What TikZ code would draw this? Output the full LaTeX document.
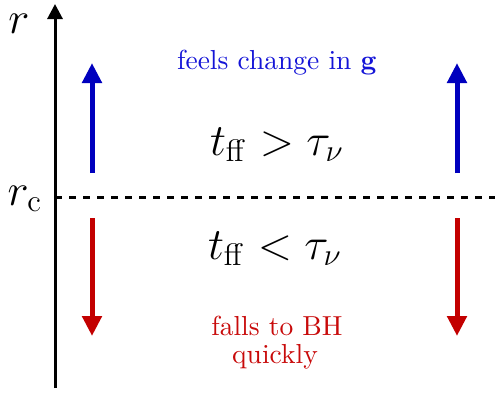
\documentclass[tikz,border=0pt]{standalone}
\usepackage{graphicx}
\usetikzlibrary{arrows.meta}
\definecolor{myblue}{RGB}{0,0,190}
\definecolor{myred}{RGB}{195,0,0}
\definecolor{txtblue}{RGB}{20,20,215}
\definecolor{txtred}{RGB}{200,10,10}
\newcommand{\myBigMath}[1]{\scalebox{2.6}{\LARGE #1}}
\newcommand{\mySmallTxt}[1]{\scalebox{2.75}{\normalsize #1}}
\tikzset{
  txtnode/.style={anchor=base, inner sep=0pt},
  upflow/.style={myblue, line width=5pt, -{Triangle[width=19pt,length=20pt]}},
  downflow/.style={myred, line width=5pt, -{Triangle[width=19pt,length=20pt]}},
  axisline/.style={black, line width=3pt, -{Triangle[width=15pt,length=15pt]}},
}
\begin{document}
\begin{tikzpicture}[x=1pt,y=-1pt]
\useasboundingbox (0,0) rectangle (495,392);
% axis
\coordinate (axb) at (55,388);
\coordinate (axt) at (55,4);
\draw[axisline] (axb) -- (axt);
% dashed critical radius
\coordinate (dl) at (55,197);
\coordinate (dr) at (495,197);
\draw[black, line width=3pt, dash pattern=on 7pt off 7pt] (dl) -- (dr);
% labels
\node[txtnode] (r) at (19,33) {\myBigMath{$r$}};
\node[txtnode] (rc) at (25,205) {\myBigMath{$r_{\mathrm{c}}$}};
% arrows
\coordinate (b1s) at (92,173);
\coordinate (b1e) at (92,63);
\coordinate (b2s) at (457,173);
\coordinate (b2e) at (457,63);
\coordinate (r1s) at (92,218);
\coordinate (r1e) at (92,336);
\coordinate (r2s) at (457,218);
\coordinate (r2e) at (457,336);
\draw[upflow] (b1s) -- (b1e);
\draw[upflow] (b2s) -- (b2e);
\draw[downflow] (r1s) -- (r1e);
\draw[downflow] (r2s) -- (r2e);
% texts
\node[txtnode, txtblue] (feels) at (277,69) {\mySmallTxt{feels change in $\mathbf{g}$}};
\node[txtnode] (gt) at (277,155) {\myBigMath{$t_{\mathrm{ff}} > \tau_\nu$}};
\node[txtnode] (lt) at (275,259) {\myBigMath{$t_{\mathrm{ff}} < \tau_\nu$}};
\node[txtnode, txtred] (falls) at (277,335) {\mySmallTxt{falls to BH}};
\node[txtnode, txtred] (quick) at (275,363) {\mySmallTxt{quickly}};
\end{tikzpicture}
\end{document}
